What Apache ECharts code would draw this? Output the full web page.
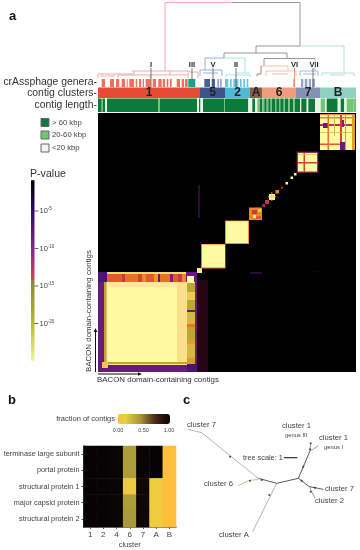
<!DOCTYPE html>
<html><head><meta charset="utf-8">
<style>html,body{margin:0;padding:0;background:#fff}#c{width:360px;height:550px}</style>
<script src="https://cdn.jsdelivr.net/npm/echarts@6/dist/echarts.min.js"></script>
</head><body><div id="c"></div>
<script>
// ---------- panel a: annotation rows (contig index on x) ----------
const clusterNames = ['1','5','2','A','6','7','B'];
const clusterEdges = [0,102,127,152,164,198,222,258];
const genusI = [[3.7,7],[12,16],[18,21.3],[23.7,27],[28.7,29.7],[31.3,36],[37.7,39.3],[41,43],[44.7,46],[47.7,52.7],[54.7,58],[60.3,63.7],[64.7,67],[68.7,70.3],[72,73.7],[78.7,82],[83.7,86],[87,89.7]];
const genusIII = [[90.3,97.3]];
const genusV = [[106.3,112],[113.7,117]];
const genusVpale = [[119.3,121],[122,123.7]];
const genusII = [[127,130.3],[132,133.7],[135.3,140.3],[142,143.7],[145.3,147],[148.7,150.3]];
const genusVI = [[195.3,197]];
const genusVII = [[203,205.3],[206.7,209.3],[210.7,213],[214.3,217]];
// contig length: end of each run, and its class (0: <20 kbp, 1: 20-60 kbp, 2: >60 kbp)
const lengthEnds = [3.7,5,7,9,60,62,99,101,102.5,105,126,127,150.3,154.3,157,159.3,162,164.3,166.3,168.7,170.3,172.7,174,177,178.3,181,182.3,185.7,187,190.3,191.7,195.3,197,202,203.3,208.7,210.3,217,222.7,227,228.7,239.7,242.7,246.3,248.7,255.3,258];
const lengthClass = [2,1,2,0,2,1,2,0,2,0,2,1,2,0,2,0,1,2,1,2,1,2,1,2,1,2,1,2,1,2,1,2,1,2,0,2,0,2,0,1,0,2,0,2,0,1,1];
// ---------- dendrogram branches [x1,y1,x2,y2] ----------
const dendroGray = [[232,2.5,300,2.5],[300,2.5,300,46],[256,46,300,46],[256,46,256,53],[224,53,287,53],[224,53,224,58],[287,53,287,58.5],[264,58.5,315,58.5],[264,58.5,264,66]];
const dendroRed = [[165,2.5,232,2.5],[165,2.5,165,71],[132,71,190,71],[98,74,134,74],[98,74,98,78],[134,71,134,74],[100,76,115,76],[118,75,150,75],[150,75,188,75],[188,71,188,78],[170,71,170,75],[190,72,198,72],[198,72,198,78],[118,75,118,78],[150,75,150,78]];
const dendroTeal = [[300,46,344,46],[344,46,344,73],[322,73,354,73],[322,73,322,76],[354,73,354,76],[330,75,345,75]];
const dendroBlue = [[205,58,224,58],[205,58,205,70],[200,70,222,70],[200,70,200,76],[222,70,222,76],[203,73,218,73]];
const dendroCyan = [[224,58,245,58],[245,58,245,73],[226,75,250,75],[226,75,226,77],[250,75,250,77],[236,73,250,73]];
const dendroBrown = [[261,66,261,74],[257,74,261,74],[257,74,257,76]];
const dendroSalmon = [[261,66,288,66],[288,66,288,71],[266,71,296,71],[266,71,266,76],[296,71,296,76],[272,74,288,74]];
const dendroLilac = [[315,58.5,315,71],[300,71,318,71],[300,71,300,76],[318,71,318,76],[303,74,316,74]];
const leadersDark = [[151,68,151,88],[192,68,192,80],[213,68,213,88],[236,68,236,88],[313,68,313,88]];
const leadersOrange = [[294.5,68,294.5,87]];
// ---------- similarity matrix: [x0,x1,y0,y1,-log10 P], painted in order ----------
const matrixBackground = [[0,258,0,259,0]];
const matrixFaint = [[99,110,0,92,2],[100,102,154,187,3],[152,164,98,100,3],[215,222,100,101,1]];
const cluster1Rects = [[0,99,0,100,8],[0,9,90,100,6],[88,99,87,100,8],[89,96,89,96,26],[9,88,98,100,23],[6,97,7,90,24],[6,8.5,8,90,20],[6,89,8,10,20],[10,79,10,85,26],[79,89,10,90,23.5],[89,99,0,9,6],[4,10,4,10,22]];
const cluster1TopBands = [[9,24,90,98,15],[24,27,90,98,13],[27,40,90,98,16],[40,44,90,98,14],[44,48,90,98,17],[48,56,90,98,15],[56,60,90,98,18],[60,62,90,98,8],[62,72,90,98,16],[72,75,90,98,9],[75,80,90,98,15],[80,84,90,98,13],[84,88,90,98,17]];
const cluster1SideBands = [[89,97,8,14,19],[89,97,14,28,21],[89,97,28,31,18],[89,97,31,45,20],[89,97,45,48,16],[89,97,48,60,21],[89,97,60,62,8],[89,97,62,72,20],[89,97,72,80,22],[89,97,80,89,20]];
const cluster5Rects = [[99,104,99,104,24],[103,127.5,103.5,128,16],[104,127,104.5,127.5,26]];
const cluster2Rects = [[127,151,128,151.5,16],[127.8,150.3,128.8,150.8,26]];
const clusterARects = [[151,164,152,164.5,17],[154,159,158,162,13],[155,158,154,157,24],[160,163,160,163,22],[158,163,153,156,15]];
const cluster6Rects = [[164,167,165,168,10],[167,171,168,172,13],[171,177,172,178,24],[170,178,175,175.8,22],[173.5,174.3,171,180,22],[177.5,181,178.5,182,17],[183,185,183.5,185.5,12],[187.5,190,187.5,190,25],[192.5,195,193,195.5,26],[196,198.5,196.5,199,26]];
const cluster7Rects = [[198.7,220.3,199.3,220.3,11],[200,219,200.5,219,26],[200,219,208.5,210,13],[205.5,207,200,219,14],[200,219,217,217.8,22]];
const clusterBRects = [[222,257,222,258,17],[222,257,222,257,26],[222,257,246,248,12],[225,230,244,249,8],[222,257,253.5,255,17],[222,243,227,228.5,15],[229.5,231,222,257,16],[242,244,222,257,14],[242,247,222,230,8],[244,246,245,252,9],[254,257,222,257,18],[236,237,236,257,21],[222,257,239,239.8,21],[247,248,222,257,19]];
// ---------- P-value colour bar ----------
const pValueTicks = [5,10,15,20];
const pValueExtent = [[0.9,25]];
// ---------- panel b ----------
const geneClusters = ['1','2','4','6','7','A','B'];
const proteins = ['terminase large subunit','portal protein','structural protein 1','major capsid protein','structural protein 2'];
const terminase = [1,1,0.98,0.4,0.98,1,0];
const portal = [1,1,0.98,0.4,0.98,1,0];
const structural1 = [1,1,0.98,0.1,0.96,0.1,0];
const capsid = [1,1,0.98,0.4,0.96,0.1,0];
const structural2 = [1,1,0.98,0.42,0.96,0.1,0];
// ---------- panel c: tree branches ----------
const treeLongBranches = [[25,118,65,128],[65,128,235,265],[290,280,218,425]];
const treeDarkBranches = [[235,265,290,280],[290,280,355,265],[355,265,390,183],[355,265,388,290],[388,290,430,298]];
const treeTanBranches = [[235,268,205,272],[205,272,175,287]];
const treeTipBranches = [[390,183,392,160],[390,183,415,168]];
const treeBlueBranches = [[388,290,405,325]];
const treeScaleBar = [[312,203,352,203]];
const treeNodes = [[150,200],[268,315],[370,230],[390,178],[245,270],[210,272],[405,293],[392,305],[365,272],[392,160]];

// ---------- drawing ----------
const FONT = '"Liberation Sans", Arial, sans-serif';
const clusterColors = ['#e64b35','#3c5488','#4dbbd5','#7e6148','#f39b7f','#8491b4','#91d1c2'];
const lengthColors = ['#eaf5e2','#74c476','#0b7a3b'];
const matrixPalette = ['#000000','#260514','#30105a','#4b1477','#6a1b7a','#8f2470','#b8305a','#d8442f','#e8702a','#e89b28','#bda638','#f0c850','#ffe89c','#fefba2'];
const matrixColor = v => echarts.color.lerp(Math.min(v,26)/26, matrixPalette);

function segSeries(seg, axis, color, width){
  return {type:'custom',coordinateSystem:'cartesian2d',xAxisIndex:axis,yAxisIndex:axis,data:seg,silent:true,animation:false,
    encode:{x:[0,2],y:[1,3]},
    renderItem(p,api){
      const a=api.coord([api.value(0),api.value(1)]),b=api.coord([api.value(2),api.value(3)]);
      return {type:'line',shape:{x1:a[0],y1:a[1],x2:b[0],y2:b[1]},style:{stroke:color,lineWidth:width}};
    }};
}
function rectSeries(rects, axis, colorFn, labelFn){
  return {type:'custom',coordinateSystem:'cartesian2d',xAxisIndex:axis,yAxisIndex:axis,data:rects,silent:true,animation:false,
    encode:{x:[0,1],y:[2,3]},
    renderItem(p,api){
      const a=api.coord([api.value(0),api.value(2)]),b=api.coord([api.value(1),api.value(3)]);
      const el={type:'rect',shape:{x:Math.min(a[0],b[0]),y:Math.min(a[1],b[1]),width:Math.abs(b[0]-a[0]),height:Math.abs(b[1]-a[1])},style:{fill:colorFn(api.value(4),p.dataIndex)}};
      if(labelFn){el.textContent={style:{text:labelFn(p.dataIndex),fill:'#222',font:'bold 12px '+FONT}};el.textConfig={position:'inside'};}
      return el;
    }};
}
const rowRects=(list,top,bottom)=>list.map(s=>[s[0],s[1],top,bottom,0]);
const fixed=c=>()=>c;
const GEN_T=79,GEN_B=87,CL_T=87.5,CL_B=98,LEN_T=98.5,LEN_B=112;
const lengthRects=lengthEnds.map((e,i)=>[i?lengthEnds[i-1]:0,e,LEN_T,LEN_B,lengthClass[i]]);
const clusterRects=clusterNames.map((n,i)=>[clusterEdges[i],clusterEdges[i+1],CL_T,CL_B,i]);
const heatData=[];
[terminase,portal,structural1,capsid,structural2].forEach((row,r)=>row.forEach((v,c)=>heatData.push([c,r,v])));

const series=[
  segSeries(dendroGray,0,'#8c8c8c',0.9),segSeries(dendroRed,0,'#eda39a',0.9),segSeries(dendroTeal,0,'#a9dcd2',0.9),
  segSeries(dendroBlue,0,'#93a6cf',0.9),segSeries(dendroCyan,0,'#a2dce8',0.9),segSeries(dendroBrown,0,'#9a7a66',0.9),
  segSeries(dendroSalmon,0,'#f2b8a6',0.9),segSeries(dendroLilac,0,'#a6aed0',0.9),
  rectSeries(rowRects(genusI,GEN_T,GEN_B),1,fixed('#ee6f5a')),
  rectSeries(rowRects(genusIII,GEN_T,GEN_B),1,fixed('#12a58a')),
  rectSeries(rowRects(genusV,GEN_T,GEN_B),1,fixed('#47619a')),
  rectSeries(rowRects(genusVpale,GEN_T,GEN_B),1,fixed('#94a4cc')),
  rectSeries(rowRects(genusII,GEN_T,GEN_B),1,fixed('#6cc4de')),
  rectSeries(rowRects(genusVI,GEN_T,GEN_B),1,fixed('#ea8d6e')),
  rectSeries(rowRects(genusVII,GEN_T,GEN_B),1,fixed('#99a3c8')),
  rectSeries(clusterRects,1,(v)=>clusterColors[v],i=>clusterNames[i]),
  rectSeries(lengthRects,1,v=>lengthColors[v]),
  segSeries(leadersDark,0,'#555',0.8),segSeries(leadersOrange,0,'#e88a66',0.9),
  rectSeries(matrixBackground.concat(matrixFaint,cluster1Rects,cluster1TopBands,cluster1SideBands,cluster5Rects,cluster2Rects,clusterARects,cluster6Rects,cluster7Rects,clusterBRects),2,matrixColor),
  {type:'custom',coordinateSystem:'cartesian2d',xAxisIndex:3,yAxisIndex:3,data:pValueExtent,silent:true,animation:false,
    renderItem(p,api){
      const a=api.coord([0,api.value(0)]),b=api.coord([1,api.value(1)]);
      return {type:'rect',shape:{x:a[0],y:a[1],width:b[0]-a[0],height:b[1]-a[1]},
        style:{fill:new echarts.graphic.LinearGradient(0,0,0,1,[
          {offset:0,color:'#000'},{offset:.17,color:'#2a0f6a'},{offset:.38,color:'#84298c'},{offset:.545,color:'#cf4258'},
          {offset:.555,color:'#8a8540'},{offset:.795,color:'#b4bc2a'},{offset:1,color:'#f2f59a'}])}};
    }},
  {type:'heatmap',xAxisIndex:4,yAxisIndex:4,data:heatData,silent:true,animation:false,progressive:0},
  segSeries(treeLongBranches,5,'#a9a9a9',0.9),segSeries(treeDarkBranches,5,'#5a5a5a',1),
  segSeries(treeTanBranches,5,'#c9b48e',0.9),segSeries(treeTipBranches,5,'#8a9a9a',0.9),
  segSeries(treeBlueBranches,5,'#7f9fb8',1),segSeries(treeScaleBar,5,'#333',1.2),
  {type:'scatter',xAxisIndex:5,yAxisIndex:5,data:treeNodes,symbolSize:2,itemStyle:{color:'#222'},silent:true,animation:false},
  segSeries(pValueTicks.map(t=>[1,t,2.1,t]),3,'#555',0.9)
];

const hidden=(min,max,inv)=>({type:'value',show:false,min,max,inverse:!!inv});
const grey='#444';
function txt(text,x,y,size,o){o=o||{};return {type:'text',x,y,silent:true,rotation:o.rot||0,style:{text,fill:o.fill||grey,font:(o.bold?'bold ':'')+size+'px '+FONT,align:o.align||'left',verticalAlign:'middle'}};}
function swatch(y,fill){return {type:'rect',silent:true,shape:{x:41,y,width:8,height:8},style:{fill,stroke:'#666',lineWidth:1}};}
function arrow(pts){return {type:'polygon',silent:true,shape:{points:pts},style:{fill:'#111'}};}
const numeralNames=[['I',151],['III',192],['V',213],['II',236],['VI',294.5],['VII',314]];
const graphics=[
  txt('a',9,16,13,{bold:1,fill:'#111'}),txt('b',8,400,13,{bold:1,fill:'#111'}),txt('c',183,400,13,{bold:1,fill:'#111'}),
  txt('crAssphage genera-',97,82.5,10.4,{align:'right',fill:'#333'}),txt('contig clusters-',97,93,10.4,{align:'right',fill:'#333'}),txt('contig length-',97,105,10.4,{align:'right',fill:'#333'}),
  swatch(118.5,'#0b7a3b'),swatch(131,'#74c476'),swatch(144,'#f2f6ec'),
  txt('> 60 kbp',52,122.5,7.7),txt('20-60 kbp',52,135,7.7),txt('<20 kbp',52,148,7.7),
  txt('P-value',30,174,10.6,{fill:'#333'}),
  txt('BACON domain-containing contigs',89,372,7.9,{rot:Math.PI/2,fill:'#333'}),
  txt('BACON domain-containing contigs',97,380,7.9,{fill:'#333'}),
  {type:'line',silent:true,shape:{x1:95.5,y1:372,x2:95.5,y2:331},style:{stroke:'#111',lineWidth:1}},
  {type:'line',silent:true,shape:{x1:98,y1:374,x2:139,y2:374},style:{stroke:'#111',lineWidth:1}},
  arrow([[93.7,332],[97.3,332],[95.5,328]]),arrow([[138,372.2],[138,375.8],[142,374]]),
  txt('fraction of contigs',115,419,7.5,{align:'right'}),
  txt('0.00',118,430,5.5,{align:'center'}),txt('0.50',143.5,430,5.5,{align:'center'}),txt('1.00',169,430,5.5,{align:'center'}),
  txt('cluster 7',187,425,7.7),txt('cluster 1',282,426,7.7),txt('genus III',285,435,5.8),
  txt('cluster 1',319,438,7.7),txt('genus I',324,447,5.8),txt('tree scale: 1',243,458,7.3),
  txt('cluster 6',204,483.5,7.7),txt('cluster 7',325,489,7.7),txt('cluster 2',315,501,7.7),txt('cluster A',219,535,7.7)
].concat(numeralNames.map(n=>txt(n[0],n[1],65,7.5,{bold:1,align:'center',fill:'#222'})));

const option={
  animation:false,backgroundColor:'#fff',textStyle:{fontFamily:FONT},
  grid:[
    {left:98,top:0,width:258,height:113},
    {left:98,top:0,width:258,height:113},
    {left:98,top:113,width:258,height:259},
    {left:31,top:173.5,width:3.5,height:187.5},
    {left:83.5,top:446,width:92.5,height:82.5},
    {left:180,top:390,width:180,height:160}
  ],
  xAxis:[
    hidden(98,356),{...hidden(0,258),gridIndex:1},{...hidden(0,258),gridIndex:2},{...hidden(0,1),gridIndex:3},
    {type:'category',gridIndex:4,data:geneClusters,name:'cluster',nameLocation:'middle',nameGap:14,nameTextStyle:{fontSize:7.5,color:grey},
      axisLine:{lineStyle:{color:'#555',width:1.5}},axisTick:{show:true,length:2,lineStyle:{color:'#555'},alignWithLabel:true},axisLabel:{fontSize:8,color:grey,margin:4},splitLine:{show:false},splitArea:{show:false}},
    {...hidden(0,540),gridIndex:5}
  ],
  yAxis:[
    hidden(0,113,true),{...hidden(0,113,true),gridIndex:1},{...hidden(0,259),gridIndex:2},
    {type:'value',gridIndex:3,min:0,max:25,inverse:true,interval:5,position:'right',splitLine:{show:false},axisLine:{show:false},
      axisTick:{show:false},
      axisLabel:{show:true,margin:5,customValues:pValueTicks,formatter:v=>'{a|10}{b|-'+v+'}',rich:{a:{fontSize:7.5,color:grey},b:{fontSize:4.5,color:grey,padding:[0,0,4,0]}}}},
    {type:'category',gridIndex:4,data:proteins,inverse:true,
      axisLine:{lineStyle:{color:'#555',width:1.5}},axisTick:{show:true,length:2,lineStyle:{color:'#555'},alignWithLabel:true},axisLabel:{fontSize:7.3,color:grey,margin:4},splitLine:{show:false},splitArea:{show:false}},
    {...hidden(0,480,true),gridIndex:5}
  ],
  visualMap:[{type:'continuous',seriesIndex:21,min:0,max:1,show:true,calculable:false,orient:'horizontal',left:118,top:414,padding:0,itemWidth:10,itemHeight:52,showLabel:false,hoverLink:false,
    inRange:{color:['#ffbe3c','#e6d040','#c8b03c','#a8963a','#7a5c28','#4a2c18','#2a1008','#050303']},textStyle:{fontSize:1,color:'#fff'}}],
  series,
  graphic:graphics
};
echarts.init(document.getElementById('c'),null,{renderer:'canvas'}).setOption(option);
</script>
</body></html>
